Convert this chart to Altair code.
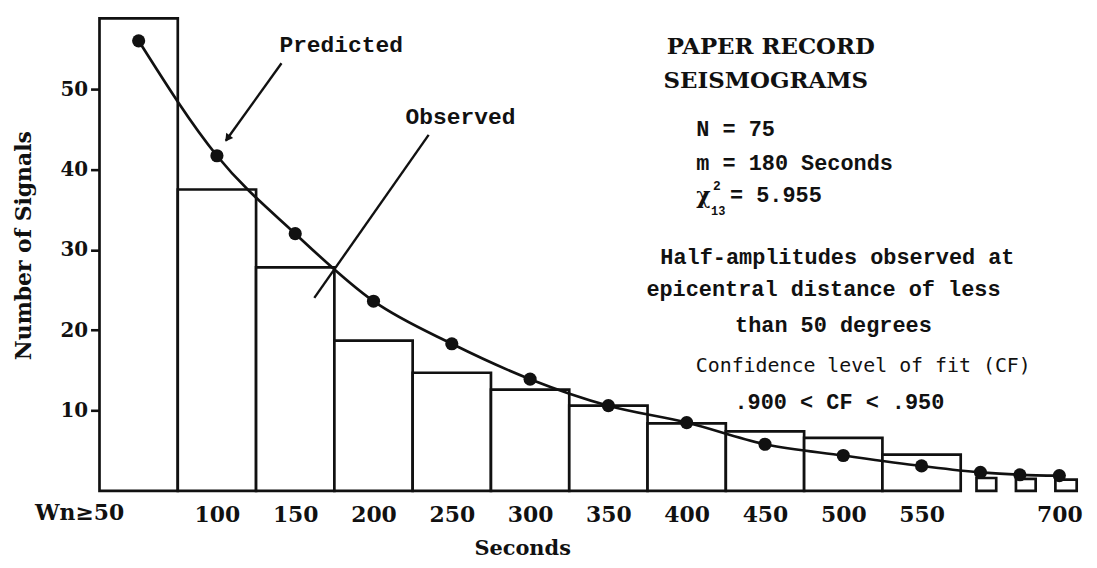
import altair as alt
import pandas as pd

# ---- data ----
bin_start = [25, 75, 125, 175, 225, 275, 325, 375, 425, 475, 525, 595, 645, 695]
bin_end = [75, 125, 175, 225, 275, 325, 375, 425, 475, 525, 575, 620, 670, 722]
observed = [58.8, 37.5, 27.8, 18.7, 14.7, 12.6, 10.6, 8.4, 7.4, 6.6, 4.5, 1.6, 1.5, 1.4]

pred_seconds = [50, 100, 150, 200, 250, 300, 350, 400, 450, 500, 550, 600, 650, 700]
predicted = [56.0, 41.7, 32.0, 23.6, 18.3, 13.9, 10.6, 8.5, 5.8, 4.4, 3.1, 2.3, 2.0, 1.9]

x_tick_values = [100, 150, 200, 250, 300, 350, 400, 450, 500, 550, 700]
x_tick_labels = ["100", "150", "200", "250", "300", "350", "400", "450", "500", "550", "700"]
first_tick_label = "Wn\u226550"
y_tick_values = [10, 20, 30, 40, 50]

obs_df = pd.DataFrame({"start": bin_start, "end": bin_end, "count": observed})
pred_df = pd.DataFrame({"sec": pred_seconds, "pred": predicted})
one = pd.DataFrame({"a": [0]})

# ---- layout ----
W, H = 985, 480
INK = "#111111"
SERIF = "DejaVu Serif"
MONO = "Liberation Mono"

xscale = alt.Scale(domain=[25, 575, 725], range=[0, 866, W], nice=False, zero=False)
yscale = alt.Scale(domain=[0, 59.4], nice=False, zero=True)

label_expr = ""
for v, l in zip(x_tick_values, x_tick_labels):
    label_expr += f"datum.value == {v} ? '{l}' : "
label_expr += "''"

xaxis = alt.Axis(
    values=x_tick_values, labelExpr=label_expr, domain=False, ticks=False, grid=False,
    labelFont=SERIF, labelFontWeight="bold", labelFontSize=22, labelColor=INK,
    labelPadding=14, labelOverlap=False, labelFlush=False, labelBaseline="top",
    title="Seconds", titleFont=SERIF, titleFontWeight="bold", titleFontSize=21,
    titleColor=INK, titleX=425, titleY=58, titleBaseline="middle", titleAlign="center",
)
yaxis = alt.Axis(
    values=y_tick_values, domain=False, grid=False, tickSize=9, tickWidth=2.6,
    tickColor=INK, labelFont=SERIF, labelFontWeight="bold", labelFontSize=20,
    labelColor=INK, labelPadding=3,
    title="Number of Signals", titleFont=SERIF, titleFontWeight="bold",
    titleFontSize=22, titleColor=INK, titleX=-76, titleY=233, titleAngle=270,
    titleAlign="center", titleBaseline="middle",
)

bars = alt.Chart(obs_df).mark_rect(fill="white", stroke=INK, strokeWidth=2.7).encode(
    x=alt.X("start:Q", scale=xscale, axis=xaxis),
    x2="end:Q",
    y=alt.Y("count:Q", scale=yscale, axis=yaxis),
    y2=alt.datum(0),
)

line = alt.Chart(pred_df).mark_line(color=INK, strokeWidth=2.7, interpolate="monotone").encode(
    x=alt.X("sec:Q", scale=xscale, axis=xaxis),
    y=alt.Y("pred:Q", scale=yscale, axis=yaxis),
)
dots = alt.Chart(pred_df).mark_circle(color=INK, size=175, opacity=1).encode(
    x=alt.X("sec:Q", scale=xscale, axis=xaxis),
    y=alt.Y("pred:Q", scale=yscale, axis=yaxis),
)


def txt(s, x, y, font=MONO, size=22, weight="bold", align="center", baseline="middle"):
    return alt.Chart(one).mark_text(
        text=s, font=font, fontSize=size, fontWeight=weight, color=INK,
        align=align, baseline=baseline,
    ).encode(x=alt.value(x), y=alt.value(y))


def seg(x1, y1, x2, y2, w=2.4):
    return alt.Chart(one).mark_rule(color=INK, strokeWidth=w).encode(
        x=alt.value(x1), y=alt.value(y1), x2=alt.value(x2), y2=alt.value(y2)
    )


arrow_head = alt.Chart(one).mark_point(
    shape="triangle-up", filled=True, color=INK, size=75, angle=216, opacity=1
).encode(x=alt.value(128.7), y=alt.value(125.6))

annotations = [
    txt(first_tick_label, -20, 492, font=SERIF, size=22, baseline="top"),
    txt("Predicted", 243, 32, size=23),
    seg(183, 50, 127, 128),
    arrow_head,
    txt("Observed", 363, 104, size=23),
    seg(331, 122, 216, 286),
    txt("PAPER RECORD", 675, 34, font=SERIF, size=23),
    txt("SEISMOGRAMS", 670, 68, font=SERIF, size=23),
    txt("N = 75", 600, 116, size=22, align="left"),
    txt("m = 180 Seconds", 600, 150, size=22, align="left"),
    txt("\u03c7", 600, 184, font=SERIF, size=22, weight="bold", align="left"),
    txt("2", 617, 173, size=13, align="left"),
    txt("13", 615, 199, size=12, align="left"),
    txt("=  5.955", 634, 183, size=22, align="left"),
    txt("Half-amplitudes observed at", 742, 245, size=22),
    txt("epicentral distance of less", 728, 277, size=22),
    txt("than 50 degrees", 738, 313, size=22),
    txt("Confidence level of fit (CF)", 768, 354, font="DejaVu Sans Mono", size=20, weight="normal"),
    txt(".900 < CF < .950", 744, 391, size=22),
]

chart = alt.layer(bars, line, dots, *annotations).properties(
    width=W, height=H,
    autosize=alt.AutoSizeParams(type="none"),
    padding={"left": 92, "top": 4, "right": 10, "bottom": 70},
    background="white",
).configure_view(stroke=None)

chart.save("out.html", embed_options={"renderer": "svg", "actions": False})
